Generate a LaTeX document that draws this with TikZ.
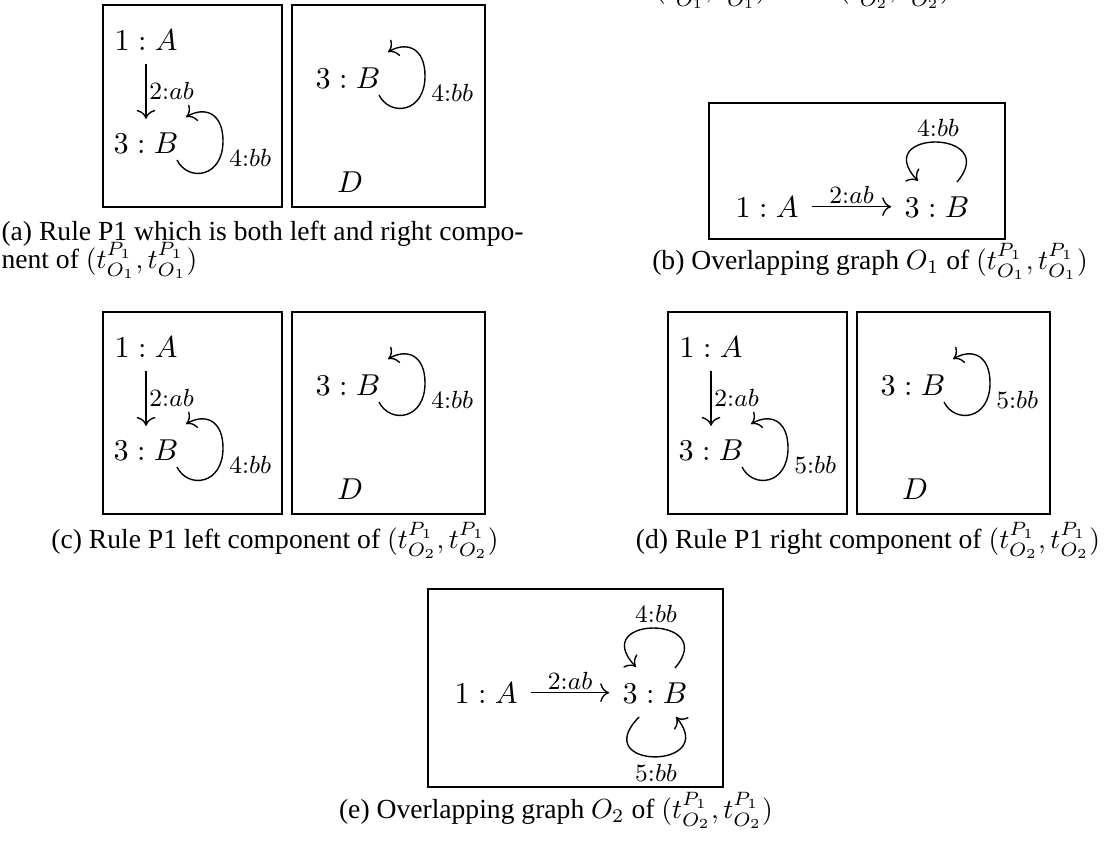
\documentclass[tikz,border=0pt]{standalone}
\usepackage[no-math]{fontspec}
\setmainfont{Liberation Serif}
\usetikzlibrary{calc,arrows.meta}
\tikzset{
  gn/.style={inner sep=4.7pt, font=\fontsize{11}{13}\selectfont, anchor=base},
  lbl/.style={inner sep=1pt, font=\fontsize{8.8}{10}\selectfont},
  captxt/.style={inner sep=0pt, font=\fontsize{10}{12}\selectfont, anchor=base},
  panelbox/.style={draw, line width=0.5pt},
  arr/.style={-{To[scale=1.2]}, line width=0.5pt},
}
% loop on the right of a node
\newcommand\rloop[2]{%
  \draw[arr] ($(#1.base)+(31,7)$) .. controls ($(#1.base)+(42,29)$) and ($(#1.base)+(77,25)$) .. ($(#1.base)+(77,-12)$)
     .. controls ($(#1.base)+(77,-40)$) and ($(#1.base)+(59,-47)$) .. ($(#1.base)+(40,-36)$);
  \node[lbl, anchor=west] (#1lab) at ($(#1.base)+(80,5)$) {#2};}
% loop above a node
\newcommand\tloop[2]{%
  \draw[arr] ($(#1.base)+(20,-35)$) .. controls ($(#1.base)+(65,-88)$) and ($(#1.base)+(-68,-88)$) .. ($(#1.base)+(-19,-36)$);
  \node[lbl] (#1tlab) at ($(#1.base)+(1,-89)$) {#2};}
% loop below a node
\newcommand\bloop[2]{%
  \draw[arr] ($(#1.base)+(-16,14)$) .. controls ($(#1.base)+(-68,67)$) and ($(#1.base)+(65,67)$) .. ($(#1.base)+(21,14)$);
  \node[lbl] (#1blab) at ($(#1.base)+(1,70)$) {#2};}
% a rule panel (two boxes), shifted by (#2,#3)
\newcommand\rulepanel[4]{%
  \draw[panelbox] ({103+#2},{5+#3}) rectangle ({282+#2},{207+#3});
  \draw[panelbox] ({292+#2},{5+#3}) rectangle ({485+#2},{207+#3});
  \node[gn] (#1A) at ({146+#2},{50+#3}) {$1:A$};
  \node[gn] (#1B) at ({146+#2},{153+#3}) {$3:B$};
  \draw[arr] (#1A) -- node[lbl, right] {$2{:}ab$} (#1B);
  \rloop{#1B}{#4}
  \node[gn] (#1R) at ({348+#2},{88+#3}) {$3:B$};
  \rloop{#1R}{#4}
  \node[gn] (#1D) at ({350+#2},{192+#3}) {$D$};
}
\begin{document}
\begin{tikzpicture}[x=0.36232pt,y=-0.36232pt]
\useasboundingbox (0,0) rectangle (1111,849);

% cut-off line at the top
\node[captxt] (top1) at (711,-2) {$(t^{P_1}_{O_1}, t^{P_1}_{O_1})$};
\node[captxt] (top2) at (895,-2) {$(t^{P_1}_{O_2}, t^{P_1}_{O_2})$};

% (a)
\rulepanel{a}{0}{0}{$4{:}bb$}
\node[captxt, anchor=base west] (capa1) at (1,240) {(a) Rule P1 which is both left and right compo-};
\node[captxt, anchor=base west] (capa2) at (1,268) {nent of $(t^{P_1}_{O_1}, t^{P_1}_{O_1})$};

% (b)
\draw[panelbox] (709,103) rectangle (1005,239);
\node[gn] (bA) at (767,217) {$1:A$};
\node[gn] (bB) at (937,217) {$3:B$};
\draw[arr] (bA) -- node[lbl, above] {$2{:}ab$} (bB);
\tloop{bB}{$4{:}bb$}
\node[captxt] (capb) at (870,269) {(b) Overlapping graph $O_1$ of $(t^{P_1}_{O_1}, t^{P_1}_{O_1})$};

% (c)
\rulepanel{c}{0}{307}{$4{:}bb$}
\node[captxt] (capc) at (275,548) {(c) Rule P1 left component of $(t^{P_1}_{O_2}, t^{P_1}_{O_2})$};

% (d)
\rulepanel{d}{565}{307}{$5{:}bb$}
\node[captxt] (capd) at (868,548) {(d) Rule P1 right component of $(t^{P_1}_{O_2}, t^{P_1}_{O_2})$};

% (e)
\draw[panelbox] (428,589) rectangle (723,787);
\node[gn] (eA) at (486,703) {$1:A$};
\node[gn] (eB) at (655,703) {$3:B$};
\draw[arr] (eA) -- node[lbl, above] {$2{:}ab$} (eB);
\tloop{eB}{$4{:}bb$}
\bloop{eB}{$5{:}bb$}
\node[captxt] (cape) at (556,818) {(e) Overlapping graph $O_2$ of $(t^{P_1}_{O_2}, t^{P_1}_{O_2})$};
\end{tikzpicture}
\end{document}
